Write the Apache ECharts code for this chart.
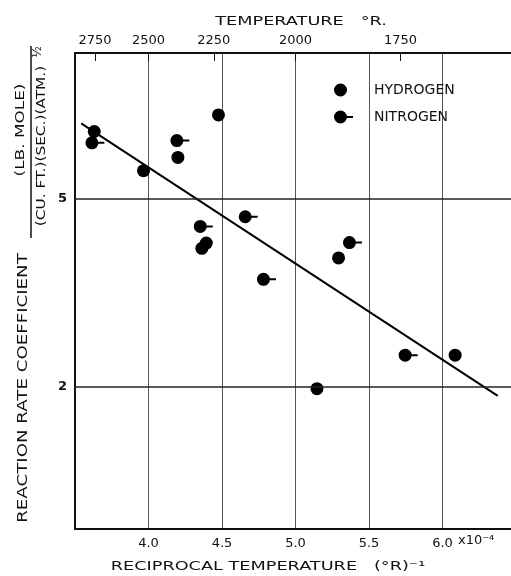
<!DOCTYPE html>
<html>
<head>
<meta charset="utf-8">
<script src="https://cdn.jsdelivr.net/npm/echarts@6/dist/echarts.min.js"></script>
<style>
	html, body { margin: 0; padding: 0; background: #fff; }
	#chart { width: 511px; height: 576px; }
</style>
</head>
<body>
<div id="chart"></div>
<script>
	// reciprocal temperature (x 10^-4 per °R) vs reaction rate coefficient
	let hydrogenPoints = [
		[3.631, 6.92], [4.200, 6.10], [3.966, 5.72], [4.363, 3.92], [4.393, 4.02],
		[5.293, 3.74], [6.086, 2.33], [5.146, 1.98], [4.476, 7.50]
	]
	let nitrogenPoints = [
		[3.615, 6.55], [4.193, 6.62], [4.658, 4.57], [4.352, 4.36], [4.782, 3.37],
		[5.367, 4.03], [5.746, 2.33]
	]
	let fitLine = [[3.542, 7.20], [6.376, 1.911]]

	let bottomTicks = [4.0, 4.5, 5.0, 5.5, 6.0]
	let bottomLabels = ["4.0", "4.5", "5.0", "5.5", "6.0"]
	let topTemps = [2750, 2500, 2250, 2000, 1750]
	let topTicks = topTemps.map(function (t) { return 1e4 / t })
	let yLines = [2, 5]

	let font = "DejaVu Sans"
	let ink = "#111"

	let dot = "M0,6.5A6.5,6.5,0,1,1,13,6.5A6.5,6.5,0,1,1,0,6.5Z"
	let tail = "M12,5.5L19,5.5L19,7.5L12,7.5Z"
	let pad = "M35,6.4L35,6.6"
	let nitrogenSymbol = "path://" + dot + tail

	let chart = echarts.init(document.getElementById("chart"))

	let option = {
		animation: false,
		backgroundColor: "#fff",
		textStyle: { fontFamily: font },
		grid: { left: 75, width: 441, top: 53, bottom: 47, containLabel: false, outerBoundsMode: "none" },
		legend: {
			orient: "vertical",
			left: 334,
			top: 83,
			padding: 0,
			itemWidth: 35,
			itemHeight: 13,
			itemGap: 13,
			textStyle: { fontFamily: font, fontSize: 14, color: ink, padding: 0 },
			data: [
				{ name: "HYDROGEN", icon: "path://" + dot + pad },
				{ name: "NITROGEN", icon: "path://" + dot + tail + pad }
			]
		},
		xAxis: [
			{
				type: "value",
				position: "bottom",
				min: 3.5,
				max: 6.5,
				interval: 0.5,
				axisLine: { lineStyle: { color: ink, width: 2 } },
				axisTick: { show: false },
				splitLine: { lineStyle: { color: "#555", width: 1 } },
				axisLabel: {
					color: ink,
					fontSize: 13,
					fontFamily: font,
					margin: 8,
					formatter: function (v) {
						let i = bottomTicks.findIndex(function (t) { return Math.abs(t - v) < 1e-6 })
						return i < 0 ? "" : bottomLabels[i]
					}
				}
			},
			{
				type: "value",
				position: "top",
				min: 3.5,
				max: 6.5,
				axisLine: { lineStyle: { color: ink, width: 2 } },
				axisTick: { show: true, inside: true, length: 8, customValues: topTicks, lineStyle: { color: ink } },
				splitLine: { show: false },
				axisLabel: {
					customValues: topTicks,
					color: ink,
					fontSize: 13,
					fontFamily: font,
					margin: 6,
					formatter: function (v) {
						return String(Math.round(1e4 / v))
					}
				}
			}
		],
		yAxis: {
			type: "log",
			min: 1,
			max: 10.14,
			axisLine: { show: true, lineStyle: { color: ink, width: 2 } },
			axisTick: { show: false },
			axisLabel: { show: false },
			splitLine: { show: false },
			minorSplitLine: { show: false }
		},
		graphic: [
			{
				type: "text", x: 301, y: 22, scaleX: 1.36,
				style: { text: "TEMPERATURE   °R.", fontSize: 13, fontFamily: font, fill: ink, align: "center", verticalAlign: "middle" }
			},
			{
				type: "text", x: 268, y: 567, scaleX: 1.36,
				style: { text: "RECIPROCAL TEMPERATURE   (°R)⁻¹", fontSize: 13, fontFamily: font, fill: ink, align: "center", verticalAlign: "middle" }
			},
			{
				type: "text", x: 458, y: 541,
				style: { text: "x10⁻⁴", fontSize: 13, fontFamily: font, fill: ink, align: "left", verticalAlign: "middle" }
			},
			{
				type: "text", x: 23, y: 388, rotation: Math.PI / 2, scaleX: 1.3,
				style: { text: "REACTION RATE COEFFICIENT", fontSize: 14, fontFamily: font, fill: ink, align: "center", verticalAlign: "middle" }
			},
			{
				type: "text", x: 21, y: 130, rotation: Math.PI / 2, scaleX: 1.3,
				style: { text: "(LB. MOLE)", fontSize: 13, fontFamily: font, fill: ink, align: "center", verticalAlign: "middle" }
			},
			{
				type: "line", shape: { x1: 31, y1: 46, x2: 31, y2: 238 },
				style: { stroke: ink, lineWidth: 1.5 }
			},
			{
				type: "text", x: 42, y: 146, rotation: Math.PI / 2, scaleX: 1.18,
				style: { text: "(CU. FT.)(SEC.)(ATM.)", fontSize: 13, fontFamily: font, fill: ink, align: "center", verticalAlign: "middle" }
			},
			{
				type: "text", x: 38, y: 52, rotation: Math.PI / 2,
				style: { text: "½", fontSize: 12, fontFamily: font, fill: ink, align: "center", verticalAlign: "middle" }
			}
		],
		series: [
			{
				name: "fit",
				type: "line",
				data: fitLine,
				symbol: "none",
				silent: true,
				lineStyle: { color: "#000", width: 2 },
				markLine: {
					silent: true,
					symbol: ["none", "none"],
					lineStyle: { color: "#222", type: "solid", width: 1.5 },
					label: {
						position: "start",
						distance: 8,
						color: ink,
						fontSize: 13,
						fontWeight: "bold",
						fontFamily: font,
						formatter: function (p) { return String(p.value) }
					},
					data: yLines.map(function (v) { return { yAxis: v } })
				}
			},
			{
				name: "HYDROGEN",
				type: "scatter",
				data: hydrogenPoints,
				symbol: "circle",
				symbolSize: 13,
				itemStyle: { color: "#000", opacity: 1 }
			},
			{
				name: "NITROGEN",
				type: "scatter",
				data: nitrogenPoints,
				symbol: nitrogenSymbol,
				symbolSize: [19, 13],
				symbolOffset: [3, 0],
				itemStyle: { color: "#000", opacity: 1 }
			}
		]
	}
	chart.setOption(option)
</script>
</body>
</html>
